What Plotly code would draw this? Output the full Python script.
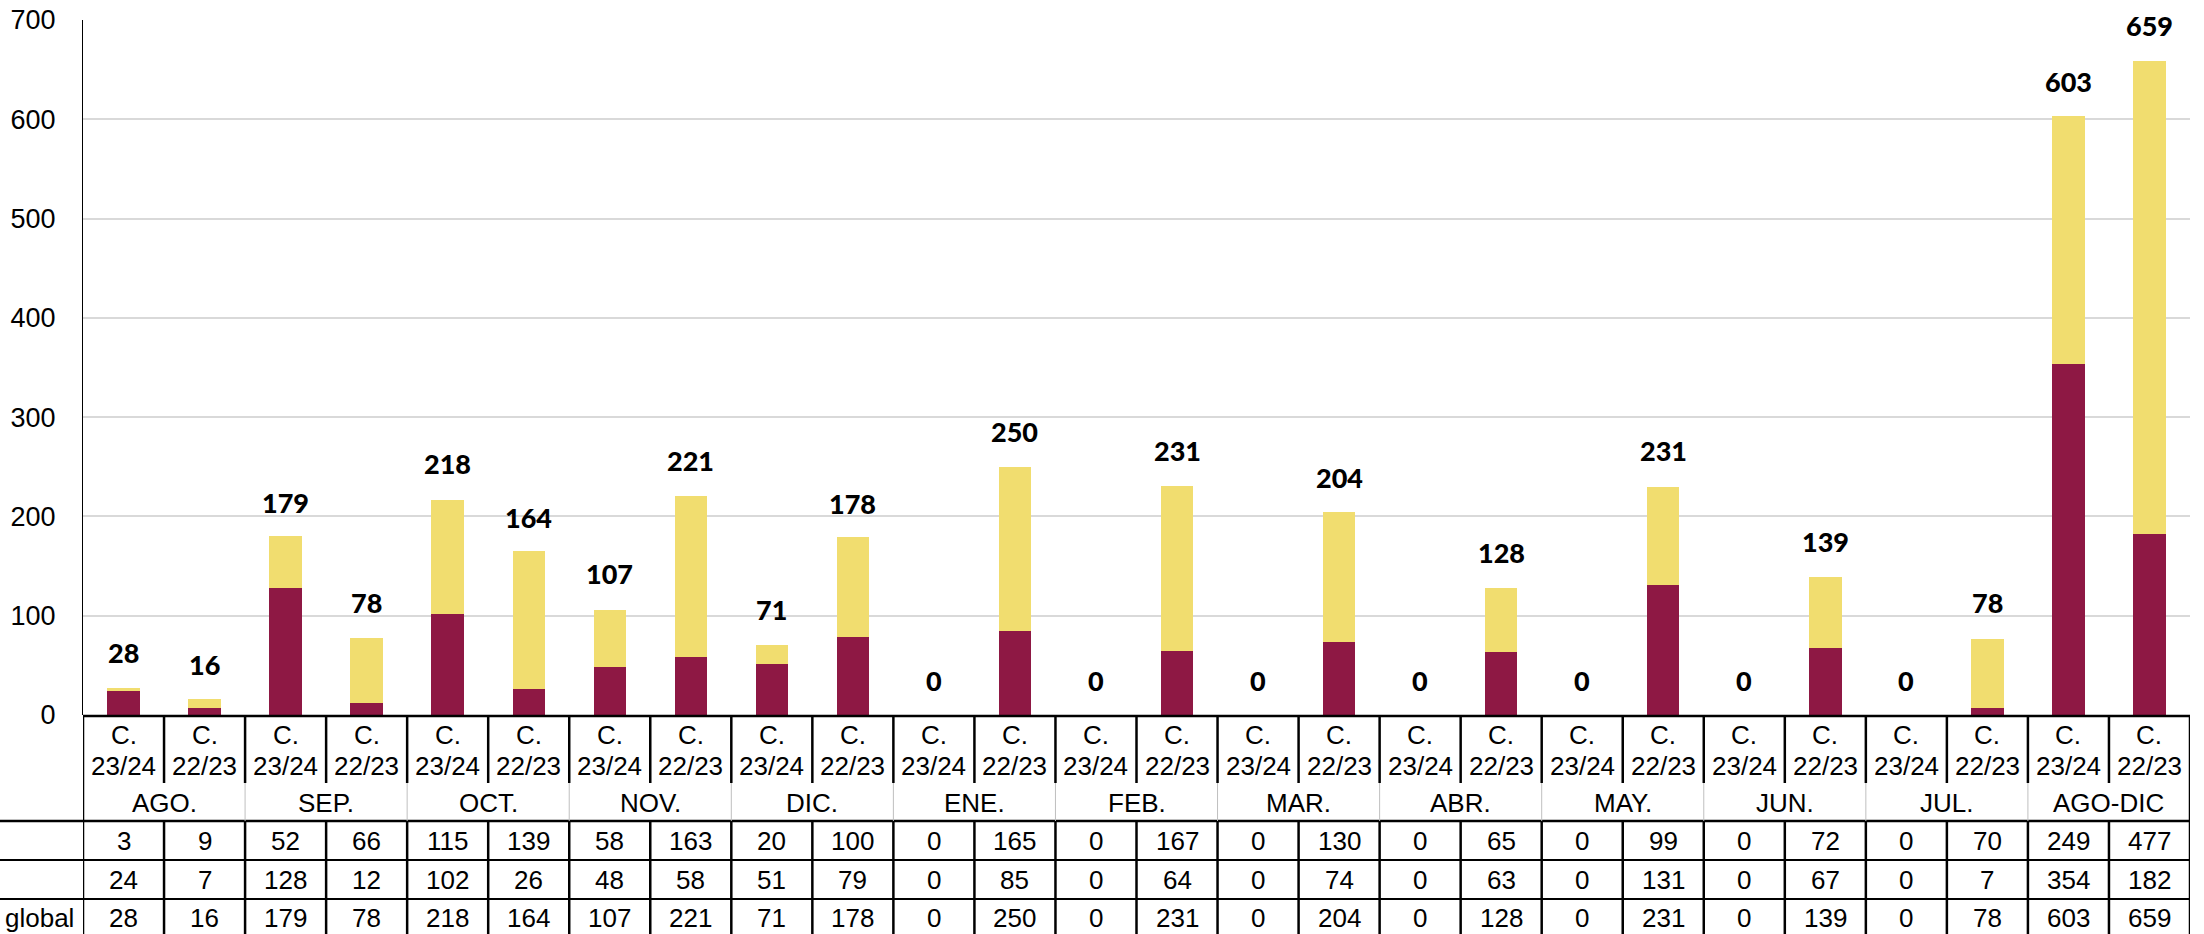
import plotly.graph_objects as go

# ---------------- data ----------------
months = ["AGO.", "SEP.", "OCT.", "NOV.", "DIC.", "ENE.", "FEB.", "MAR.",
          "ABR.", "MAY.", "JUN.", "JUL.", "AGO-DIC"]
seasons = ["C. 23/24", "C. 22/23"]
row_labels = ["", "", "global"]

serie_amarilla = [3, 9, 52, 66, 115, 139, 58, 163, 20, 100, 0, 165, 0, 167,
                  0, 130, 0, 65, 0, 99, 0, 72, 0, 70, 249, 477]
serie_granate = [24, 7, 128, 12, 102, 26, 48, 58, 51, 79, 0, 85, 0, 64,
                 0, 74, 0, 63, 0, 131, 0, 67, 0, 7, 354, 182]
serie_global = [28, 16, 179, 78, 218, 164, 107, 221, 71, 178, 0, 250, 0, 231,
                0, 204, 0, 128, 0, 231, 0, 139, 0, 78, 603, 659]

y_ticks = [0, 100, 200, 300, 400, 500, 600, 700]

# ---------------- layout geometry (pixels) ----------------
W, H = 2204, 934
L, R, T, B = 83, 14, 20, 219
plot_h = H - T - B          # 695
base_px = H - B             # 715

def py(p):                  # pixel y -> paper y
    return (base_px - p) / plot_h

def px(p):                  # pixel x -> paper x
    return (p - L) / (W - L - R)

MAROON = "#8E1844"
YELLOW = "#F1DD6F"
FONT = "Liberation Sans, Arial, sans-serif"
TS = 26

n = len(serie_global)
xs = list(range(n))

fig = go.Figure()
fig.add_trace(go.Bar(x=xs, y=serie_granate, width=0.4, marker_color=MAROON,
                     marker_line_width=0, name="granate", hoverinfo="y"))
fig.add_trace(go.Bar(x=xs, y=serie_amarilla, width=0.4, marker_color=YELLOW,
                     marker_line_width=0, name="amarilla", hoverinfo="y"))

annotations = []
# value labels above bars
for i, v in enumerate(serie_global):
    annotations.append(dict(x=i, y=v, xref="x", yref="y", text=str(v),
                            showarrow=False, yshift=35, yanchor="middle",
                            font=dict(family="Lato, Noto Sans, sans-serif",
                                      size=27, color="black", weight=900)))

# table: season labels
for i in range(n):
    s = seasons[i % 2]
    l1, l2 = s.split(" ", 1)
    annotations.append(dict(x=i, y=py(735), xref="x", yref="paper", text=l1,
                            showarrow=False, yanchor="middle",
                            font=dict(family=FONT, size=TS, color="black")))
    annotations.append(dict(x=i, y=py(766), xref="x", yref="paper", text=l2,
                            showarrow=False, yanchor="middle",
                            font=dict(family=FONT, size=TS, color="black")))
# month labels
for m, name in enumerate(months):
    annotations.append(dict(x=2 * m + 0.5, y=py(803), xref="x", yref="paper",
                            text=name, showarrow=False, yanchor="middle",
                            font=dict(family=FONT, size=TS, color="black")))
# data rows
rows = [serie_amarilla, serie_granate, serie_global]
row_y = [841, 880, 918]
for r, vals in enumerate(rows):
    for i, v in enumerate(vals):
        annotations.append(dict(x=i, y=py(row_y[r]), xref="x", yref="paper",
                                text=str(v), showarrow=False, yanchor="middle",
                                font=dict(family=FONT, size=TS, color="black")))
    if row_labels[r]:
        annotations.append(dict(x=px(3), y=py(row_y[r]), xref="paper", yref="paper",
                                text=row_labels[r], showarrow=False,
                                xanchor="left", yanchor="middle",
                                font=dict(family=FONT, size=TS, color="black")))

shapes = []
def hline(y_px, x0p, x1p, w=2, color="black"):
    shapes.append(dict(type="line", xref="paper", yref="paper",
                       x0=px(x0p), x1=px(x1p), y0=py(y_px), y1=py(y_px),
                       line=dict(color=color, width=w)))

def vline(xv, y0p, y1p, w=2, color="black"):
    shapes.append(dict(type="line", xref="x", yref="paper",
                       x0=xv, x1=xv, y0=py(y0p), y1=py(y1p),
                       line=dict(color=color, width=w)))

# horizontal table lines
hline(716, L, W - R, w=2.5)
hline(821, 0, W - R, w=2.5)
hline(860, 0, W - R, w=2)
hline(899, 0, W - R, w=2)

# vertical table lines
for k in range(n + 1):
    xv = k - 0.5
    vline(xv, 716, 783, w=2.5)
    if k == 0 or k == n:
        vline(xv, 783, 821, w=2.5)
    elif k % 2 == 0:
        vline(xv, 783, 821, w=1, color="#bfbfbf")
    vline(xv, 821, H + 5, w=2.5)

fig.update_layout(
    width=W, height=H,
    margin=dict(l=L, r=R, t=T, b=B, autoexpand=False),
    paper_bgcolor="white", plot_bgcolor="white",
    barmode="stack", bargap=0,
    showlegend=False,
    annotations=annotations,
    shapes=shapes,
    xaxis=dict(range=[-0.5, n - 0.5], showticklabels=False, showgrid=False,
               zeroline=False, showline=False, fixedrange=True),
    yaxis=dict(range=[0, 700], tickvals=y_ticks, ticktext=[str(t) for t in y_ticks],
               showgrid=True, gridcolor="#d9d9d9", gridwidth=1.5,
               zeroline=False, showline=True, linecolor="black", linewidth=1,
               ticks="", ticklabelstandoff=21,
               tickfont=dict(family=FONT, size=27, color="black"),
               fixedrange=True),
)

fig.write_html("out.html",
               config={"displayModeBar": False},
               post_script="document.body.style.margin='0';"
                           "document.body.style.overflow='hidden';")
